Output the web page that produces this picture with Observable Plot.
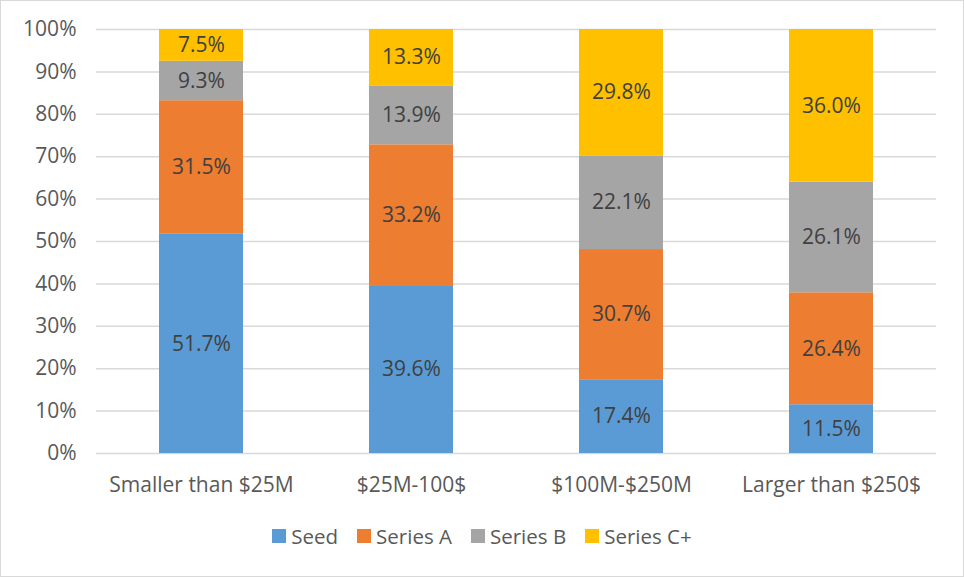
<!DOCTYPE html>
<html>
<head>
<meta charset="utf-8">
<script src="https://cdn.jsdelivr.net/npm/d3@7"></script>
<script src="https://cdn.jsdelivr.net/npm/@observablehq/plot@0.6"></script>
<style>
  body { margin: 0; background: #fff; }
  #chart { position: absolute; left: 0; top: 0; width: 962px; height: 575px; border: 1px solid #d9d9d9; background: #fff; font-family: "Open Sans", sans-serif; }
  #legend { position: absolute; left: 0; top: 521px; width: 962px; display: flex; justify-content: center; gap: 19px; font-size: 20.5px; color: #595959; }
  .item { display: flex; align-items: center; }
  .sw { width: 14px; height: 14px; margin-right: 5px; }
</style>
</head>
<body>
<div id="chart"><div id="plot"></div><div id="legend"></div></div>
<script>
const categories = ["Smaller than $25M", "$25M-100$", "$100M-$250M", "Larger than $250$"];
const seriesNames = ["Seed", "Series A", "Series B", "Series C+"];
const seed = [51.7, 39.6, 17.4, 11.5];
const seriesA = [31.5, 33.2, 30.7, 26.4];
const seriesB = [9.3, 13.9, 22.1, 26.1];
const seriesC = [7.5, 13.3, 29.8, 36.0];
const colors = ["#5b9bd5", "#ed7d31", "#a5a5a5", "#ffc000"];
const yTicks = [0, 10, 20, 30, 40, 50, 60, 70, 80, 90, 100];

const allSeries = [seed, seriesA, seriesB, seriesC];
const data = [];
categories.forEach((c, i) => {
  seriesNames.forEach((s, j) => data.push({category: c, series: s, value: allSeries[j][i]}));
});

const plot = Plot.plot({
  width: 962,
  height: 505,
  marginTop: 28,
  marginLeft: 95,
  marginRight: 27,
  marginBottom: 53,
  style: {fontFamily: "'Open Sans', sans-serif", fontSize: "21px", color: "#595959", background: "transparent"},
  x: {domain: categories, paddingInner: 0.6, paddingOuter: 0.3, label: null},
  y: {domain: [0, 100], label: null},
  color: {domain: seriesNames, range: colors},
  marks: [
    Plot.gridY(yTicks, {stroke: "#d9d9d9", strokeOpacity: 1, strokeWidth: 1.5}),
    Plot.barY(data, Plot.stackY({x: "category", y: "value", fill: "series", order: seriesNames})),
    Plot.text(data, Plot.stackY({x: "category", y: "value", z: "series", order: seriesNames, text: d => d.value.toFixed(1) + "%", fill: "#404040", fontSize: 21})),
    Plot.axisY(yTicks, {tickSize: 0, tickPadding: 20, tickFormat: d => d + "%", fontSize: 21, fill: "#595959"}),
    Plot.axisX({tickSize: 0, tickPadding: 24, fontSize: 21, fill: "#595959"})
  ]
});
document.getElementById("plot").appendChild(plot);

const legend = document.getElementById("legend");
seriesNames.forEach((s, i) => {
  const it = document.createElement("div");
  it.className = "item";
  it.innerHTML = `<span class="sw" style="background:${colors[i]}"></span><span>${s}</span>`;
  legend.appendChild(it);
});
</script>
</body>
</html>
